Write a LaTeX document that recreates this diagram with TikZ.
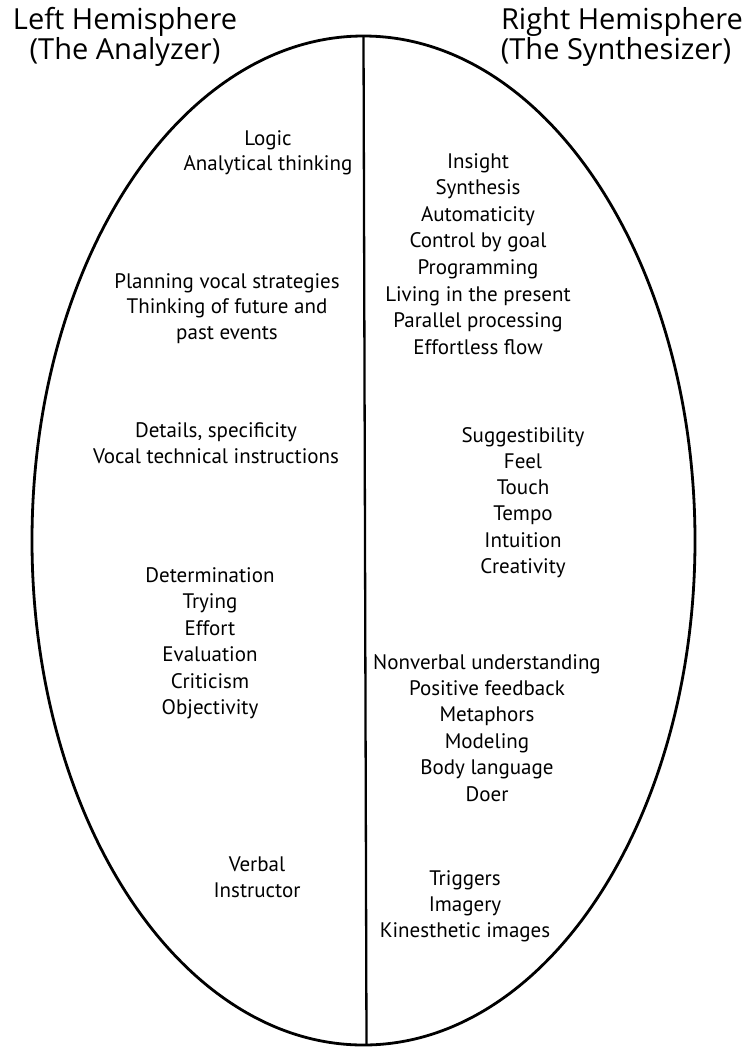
\documentclass[tikz,border=0pt]{standalone}
\usepackage{fontspec}
\setmainfont{PT Sans}
\newfontfamily\headfont{Open Sans}
\begin{document}
\begin{tikzpicture}[x=1pt,y=-1pt,
  body/.style={anchor=base,inner sep=0pt,font=\fontsize{21}{25}\selectfont},
  head/.style={anchor=base,inner sep=0pt,font=\headfont\fontsize{29}{34}\selectfont},
  outline/.style={line width=2.8pt},
  divider/.style={line width=2.3pt}]
\useasboundingbox (0,0) rectangle (749,1047);
\draw[outline] (363.5,540.5) ellipse [x radius=331.5, y radius=504.5];
\coordinate (top) at (363.5,36);
\coordinate (bot) at (366.5,1045);
\draw[divider] (top) -- (bot);
% headers
\node[head] (lh1) at (125,29) {Left Hemisphere};
\node[head] (lh2) at (125,59.5) {(The Analyzer)};
\node[head] (rh1) at (622,29) {Right Hemisphere};
\node[head] (rh2) at (616,59.5) {(The Synthesizer)};
% left groups
\foreach \t [count=\i] in {Logic,Analytical thinking}
  \node[body] (la\i) at (268,{145+25.5*(\i-1)}) {\t};
\foreach \t [count=\i] in {Planning vocal strategies,Thinking of future and,past events}
  \node[body] (lb\i) at (227,{288+25.5*(\i-1)}) {\t};
\foreach \t [count=\i] in {{Details, specificity},Vocal technical instructions}
  \node[body] (lc\i) at (216,{437+26*(\i-1)}) {\t};
\foreach \t [count=\i] in {Determination,Trying,Effort,Evaluation,Criticism,Objectivity}
  \node[body] (ld\i) at (210,{582+26.5*(\i-1)}) {\t};
\foreach \t [count=\i] in {Verbal,Instructor}
  \node[body] (le\i) at (257,{871+26*(\i-1)}) {\t};
% right groups
\foreach \t [count=\i] in {Insight,Synthesis,Automaticity,Control by goal,Programming,Living in the present,Parallel processing,Effortless flow}
  \node[body] (ra\i) at (478,{168+26.6*(\i-1)}) {\t};
\foreach \t [count=\i] in {Suggestibility,Feel,Touch,Tempo,Intuition,Creativity}
  \node[body] (rb\i) at (523,{442+26.3*(\i-1)}) {\t};
\foreach \t [count=\i] in {Nonverbal understanding,Positive feedback,Metaphors,Modeling,Body language,Doer}
  \node[body] (rc\i) at (487,{669+26.4*(\i-1)}) {\t};
\foreach \t [count=\i] in {Triggers,Imagery,Kinesthetic images}
  \node[body] (rd\i) at (465,{885+26*(\i-1)}) {\t};
\end{tikzpicture}
\end{document}
